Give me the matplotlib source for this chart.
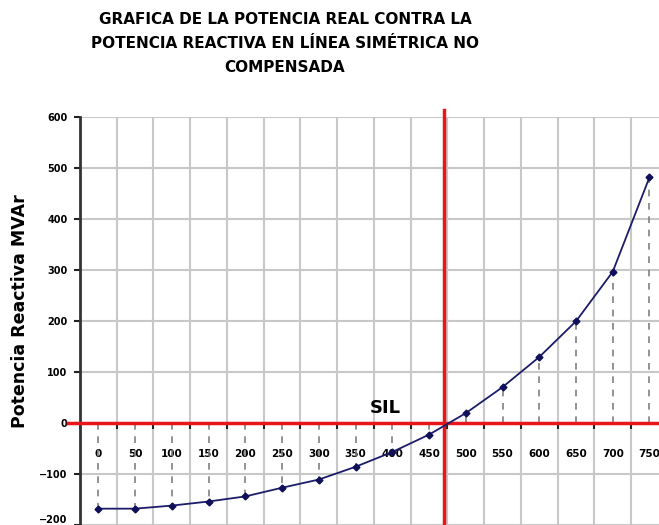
import numpy as np
import matplotlib
matplotlib.use("Agg")
import matplotlib.pyplot as plt
from matplotlib.ticker import MultipleLocator

# potencia real (MW) y reactiva (MVAr) de la linea
p_real = [0, 50, 100, 150, 200, 250, 300, 350, 400, 450, 500, 550, 600, 650, 700, 750]
q_reactiva = [-168, -168, -162, -154, -144, -127, -111, -86, -57, -23, 19, 70, 129, 199, 296, 481]
x_labels = [str(p) for p in p_real]
y_ticks = [-200, -100, 0, 100, 200, 300, 400, 500, 600]
sil = 470

titulo = ("GRAFICA DE LA POTENCIA REAL CONTRA LA\n"
          "POTENCIA REACTIVA EN LÍNEA SIMÉTRICA NO\n"
          "COMPENSADA")

fig = plt.figure(figsize=(6.59, 5.25), dpi=100)
ax = fig.add_axes([80 / 659, 0.0, 0.892, 0.778])

ax.set_xlim(-25, 775)
ax.set_ylim(-200, 600)

# rejilla entre categorias
ax.xaxis.set_minor_locator(MultipleLocator(50, offset=25))
ax.set_xticks(p_real, x_labels)
ax.set_yticks(y_ticks)
ax.grid(which="minor", axis="x", color="#c8c8c8", lw=1.5, zorder=0)
ax.grid(which="major", axis="y", color="#c8c8c8", lw=1.5, zorder=0)

for s in ["top", "right"]:
    ax.spines[s].set_visible(False)
ax.spines["bottom"].set_position(("data", 0))
ax.spines["bottom"].set_visible(False)
ax.spines["left"].set_color("#333333")
ax.spines["left"].set_linewidth(2)

ax.tick_params(axis="x", which="major", length=0, pad=19, labelsize=7.5)
ax.tick_params(axis="x", which="minor", length=4, width=1.5, color="#222222",
               direction="out")
ax.tick_params(axis="y", length=4, width=1.5, color="#222222", pad=5, labelsize=7)
for lab in ax.get_xticklabels() + ax.get_yticklabels():
    lab.set_fontweight("bold")
# la etiqueta inferior queda pegada al borde
ax.get_yticklabels()[0].set_va("bottom")

# lineas de referencia: Q = 0 y SIL
ax.plot([-41, 800], [0, 0], color="#e8161b", lw=2.5, clip_on=False, zorder=4)
ax.plot([sil, sil], [-210, 613], color="#e8161b", lw=2.5, clip_on=False, zorder=4)

ax.vlines(p_real, 0, q_reactiva, colors="#808080", linestyles=(0, (4, 4)),
          lw=1.2, zorder=2)
ax.plot(p_real, q_reactiva, color="#1c1c6b", lw=1.3, marker="D", ms=3.5,
        mfc="#10105a", mec="#10105a", zorder=5)

ax.text(370, 29, "SIL", fontsize=13, fontweight="bold", ha="left", va="center",
        zorder=6)

fig.text(285 / 659, 1 - 44 / 525, titulo, ha="center", va="center",
         fontsize=11, fontweight="bold", linespacing=1.75)
fig.text(20 / 659, 1 - 311 / 525, "Potencia Reactiva MVAr", rotation=90,
         ha="center", va="center", fontsize=12.5, fontweight="bold")

fig.savefig("out.png", dpi=100)
